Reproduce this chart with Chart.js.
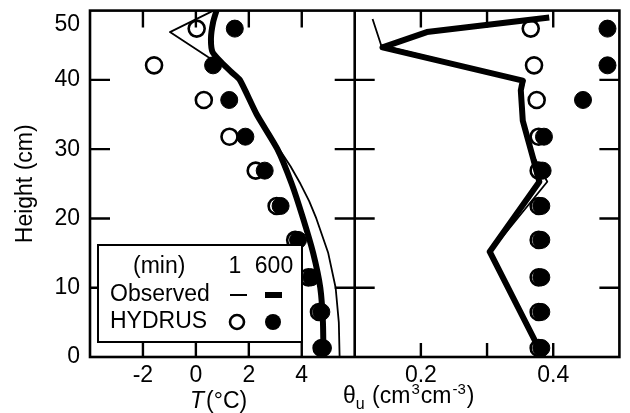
<!DOCTYPE html>
<html>
<head>
<meta charset="utf-8">
<script src="https://cdn.jsdelivr.net/npm/chart.js@4.4.1/dist/chart.umd.min.js"></script>
<style>
  html, body { margin: 0; padding: 0; background: #fff; }
</style>
</head>
<body>
<canvas id="grafico" width="630" height="413"></canvas>
<script>
// alturas (cm) dos pontos HYDRUS
const alturasHydrus = [1.3, 6.5, 11.5, 16.9, 21.8, 26.9, 31.8, 37.1, 42.1, 47.4];
// temperatura HYDRUS (°C) para 1 e 600 min
const tempHydrus1 = [4.75, 4.65, 4.25, 3.75, 3.05, 2.26, 1.27, 0.3, -1.58, 0.03];
const tempHydrus600 = [4.8, 4.74, 4.36, 3.86, 3.2, 2.6, 1.87, 1.26, 0.65, 1.47];
// teor de água HYDRUS (cm3 cm-3)
const umidHydrus1 = [0.378, 0.378, 0.378, 0.378, 0.378, 0.378, 0.378, 0.375, 0.371, 0.366];
const umidHydrus600 = [0.382, 0.382, 0.382, 0.382, 0.382, 0.384, 0.386, 0.445, 0.482, 0.482];

// perfis observados de temperatura
const alturasTemp1 = [0, 5, 10, 15, 20, 22.5, 25, 27.5, 30, 35, 40, 42, 43.3, 46.9, 50];
const tempObs1 = [5.43, 5.4, 5.28, 5.0, 4.55, 4.28, 3.95, 3.58, 3.15, 2.35, 1.7, 1.05, 0.46, -0.98, 0.66];
const alturasTemp600 = [0, 5, 10, 15, 20, 25, 30, 35, 40, 41.1, 42.5, 44, 46, 48.3, 50];
const tempObs600 = [4.82, 4.8, 4.7, 4.43, 4.05, 3.62, 3.08, 2.3, 1.66, 1.35, 0.97, 0.63, 0.57, 0.65, 0.78];

// perfis observados de umidade
const alturasUmid1 = [0, 15.2, 25.3, 28.9, 34.1, 38.5, 39.9, 45, 48.8];
const umidObs1 = [0.386, 0.305, 0.391, 0.371, 0.356, 0.353, 0.357, 0.14, 0.127];
const alturasUmid600 = [0, 15.2, 25.3, 28.9, 34.1, 38.5, 39.9, 44.7, 46.9, 49.0];
const umidObs600 = [0.385, 0.304, 0.379, 0.369, 0.354, 0.351, 0.354, 0.142, 0.209, 0.394];

// rótulos dos eixos
const rotulosT = [-2, 0, 2, 4];
const rotulosUmid = [0.2, 0.4];
const rotulosAltura = [0, 10, 20, 30, 40, 50];

const FONTE = "'Liberation Sans', Arial, sans-serif";
Chart.defaults.font.family = FONTE;
Chart.defaults.font.size = 23;
Chart.defaults.color = "#000";

const pontos = (xs, hs) => xs.map((x, i) => ({ x: x, y: hs[i] }));
const temRotulo = (lista, v) => lista.some((r) => Math.abs(r - v) < 1e-9);

function linha(xs, hs, eixo, largura, tensao) {
  return {
    data: pontos(xs, hs), xAxisID: eixo, showLine: true,
    borderColor: "#000", borderWidth: largura, pointRadius: 0,
    tension: tensao, borderJoinStyle: "round", fill: false,
  };
}
function marcador(xs, hs, eixo, cheio) {
  return {
    data: pontos(xs, hs), xAxisID: eixo, showLine: false,
    pointStyle: "circle", pointRadius: cheio ? 8.5 : 8,
    pointBackgroundColor: cheio ? "#000" : "#fff",
    pointBorderColor: "#000", pointBorderWidth: cheio ? 1 : 2.6,
  };
}

// desenha um texto com partes (itálico, índice, expoente)
function textoComposto(ctx, partes, x, y) {
  partes.forEach((p) => {
    ctx.font = (p.italico ? "italic " : "") + p.tam + "px " + FONTE;
    ctx.fillText(p.t, x, y + (p.dy || 0));
    x += ctx.measureText(p.t).width + (p.gap || 0);
  });
}

const moldura = {
  id: "moldura",
  afterDraw(chart) {
    const { ctx, chartArea: area, scales } = chart;
    const { y, xT, xW } = scales;
    const divisa = xT.right;
    ctx.save();
    ctx.strokeStyle = "#000";
    ctx.fillStyle = "#000";
    ctx.lineWidth = 2.6;
    ctx.strokeRect(area.left, area.top, area.right - area.left, area.bottom - area.top);
    ctx.beginPath();
    ctx.moveTo(divisa, area.top);
    ctx.lineTo(divisa, area.bottom);
    ctx.stroke();

    // marcas para dentro
    ctx.lineWidth = 2.4;
    ctx.beginPath();
    y.ticks.forEach((t) => {
      if (t.value <= y.min || t.value >= y.max) return;
      const py = y.getPixelForValue(t.value);
      ctx.moveTo(area.left, py); ctx.lineTo(area.left + 20, py);
      ctx.moveTo(divisa - 20, py); ctx.lineTo(divisa + 20, py);
      ctx.moveTo(area.right - 20, py); ctx.lineTo(area.right, py);
    });
    [xT, xW].forEach((esc) => {
      esc.ticks.forEach((t) => {
        if (t.value <= esc.min + 1e-9 || t.value >= esc.max - 1e-9) return;
        const px = esc.getPixelForValue(t.value);
        ctx.moveTo(px, area.bottom); ctx.lineTo(px, area.bottom - 14);
        ctx.moveTo(px, area.top); ctx.lineTo(px, area.top + 17);
      });
    });
    ctx.stroke();

    // títulos dos eixos x
    ctx.textBaseline = "alphabetic";
    ctx.textAlign = "left";
    textoComposto(ctx, [
      { t: "T", tam: 23, italico: true, gap: 2 },
      { t: "(°C)", tam: 23 },
    ], 190, 408);
    textoComposto(ctx, [
      { t: "θ", tam: 23 },
      { t: "u", tam: 16, dy: 6, gap: 1 },
      { t: " (cm", tam: 23, gap: 1 },
      { t: "3", tam: 15, dy: -9, gap: 1 },
      { t: "cm", tam: 23, gap: 1 },
      { t: "-3", tam: 15, dy: -9, gap: 1 },
      { t: ")", tam: 23 },
    ], 343, 403);

    // legenda
    ctx.fillStyle = "#fff";
    ctx.fillRect(98, 245, 204, 97);
    ctx.lineWidth = 2;
    ctx.strokeRect(98, 245, 204, 97);
    ctx.fillStyle = "#000";
    ctx.font = "23px " + FONTE;
    ctx.textBaseline = "middle";
    ctx.fillText("(min)", 133, 267);
    ctx.fillText("Observed", 110, 295);
    ctx.fillText("HYDRUS", 110, 322);
    ctx.textAlign = "center";
    ctx.fillText("1", 235, 267);
    ctx.fillText("600", 274, 267);
    ctx.beginPath();
    ctx.lineWidth = 2;
    ctx.moveTo(230, 295); ctx.lineTo(247, 295);
    ctx.stroke();
    ctx.beginPath();
    ctx.lineWidth = 6;
    ctx.moveTo(265, 295); ctx.lineTo(282, 295);
    ctx.stroke();
    ctx.beginPath();
    ctx.lineWidth = 2.6;
    ctx.fillStyle = "#fff";
    ctx.arc(237, 322, 7, 0, Math.PI * 2);
    ctx.fill();
    ctx.stroke();
    ctx.beginPath();
    ctx.fillStyle = "#000";
    ctx.arc(273, 322, 8, 0, Math.PI * 2);
    ctx.fill();
    ctx.restore();
  },
};

new Chart(document.getElementById("grafico"), {
  type: "scatter",
  data: {
    datasets: [
      linha(tempObs600, alturasTemp600, "xT", 6, 0.2),
      linha(tempObs1, alturasTemp1, "xT", 1.8, 0),
      linha(umidObs600, alturasUmid600, "xW", 6, 0),
      linha(umidObs1, alturasUmid1, "xW", 1.8, 0),
      marcador(tempHydrus600, alturasHydrus, "xT", true),
      marcador(umidHydrus600, alturasHydrus, "xW", true),
      marcador(tempHydrus1, alturasHydrus, "xT", false),
      marcador(umidHydrus1, alturasHydrus, "xW", false),
    ],
  },
  options: {
    responsive: false,
    animation: false,
    layout: { padding: { left: 0, right: 7, top: 10, bottom: 0 } },
    plugins: { legend: { display: false }, tooltip: { enabled: false } },
    scales: {
      y: {
        type: "linear", position: "left", min: 0, max: 50,
        ticks: {
          stepSize: 10, padding: 10,
          callback: (v) => (v === 50 ? ["", String(v)] : (rotulosAltura.includes(v) ? String(v) : "")),
        },
        grid: { display: false, drawTicks: false },
        border: { display: false },
        title: { display: true, text: "Height (cm)", padding: { top: 12, bottom: 0 } },
        afterFit: (s) => { s.width = 90; s.paddingTop = 0; s.paddingBottom = 0; },
      },
      xT: {
        type: "linear", position: "bottom", stack: "painel", stackWeight: 1,
        min: -4, max: 6,
        ticks: {
          stepSize: 2, padding: 5, autoSkip: false, maxRotation: 0,
          callback: (v) => (temRotulo(rotulosT, v) ? String(v) : ""),
        },
        grid: { display: false, drawTicks: false },
        border: { display: false },
        afterFit: (s) => { s.height = 56; s.paddingLeft = 0; s.paddingRight = 0; },
      },
      xW: {
        type: "linear", position: "bottom", stack: "painel", stackWeight: 1,
        min: 0.1, max: 0.5,
        ticks: {
          stepSize: 0.1, padding: 5, autoSkip: false, maxRotation: 0,
          callback: (v) => (temRotulo(rotulosUmid, v) ? v.toFixed(1) : ""),
        },
        grid: { display: false, drawTicks: false },
        border: { display: false },
        afterFit: (s) => { s.height = 56; s.paddingLeft = 0; s.paddingRight = 0; },
      },
    },
  },
  plugins: [moldura],
});
</script>
</body>
</html>
